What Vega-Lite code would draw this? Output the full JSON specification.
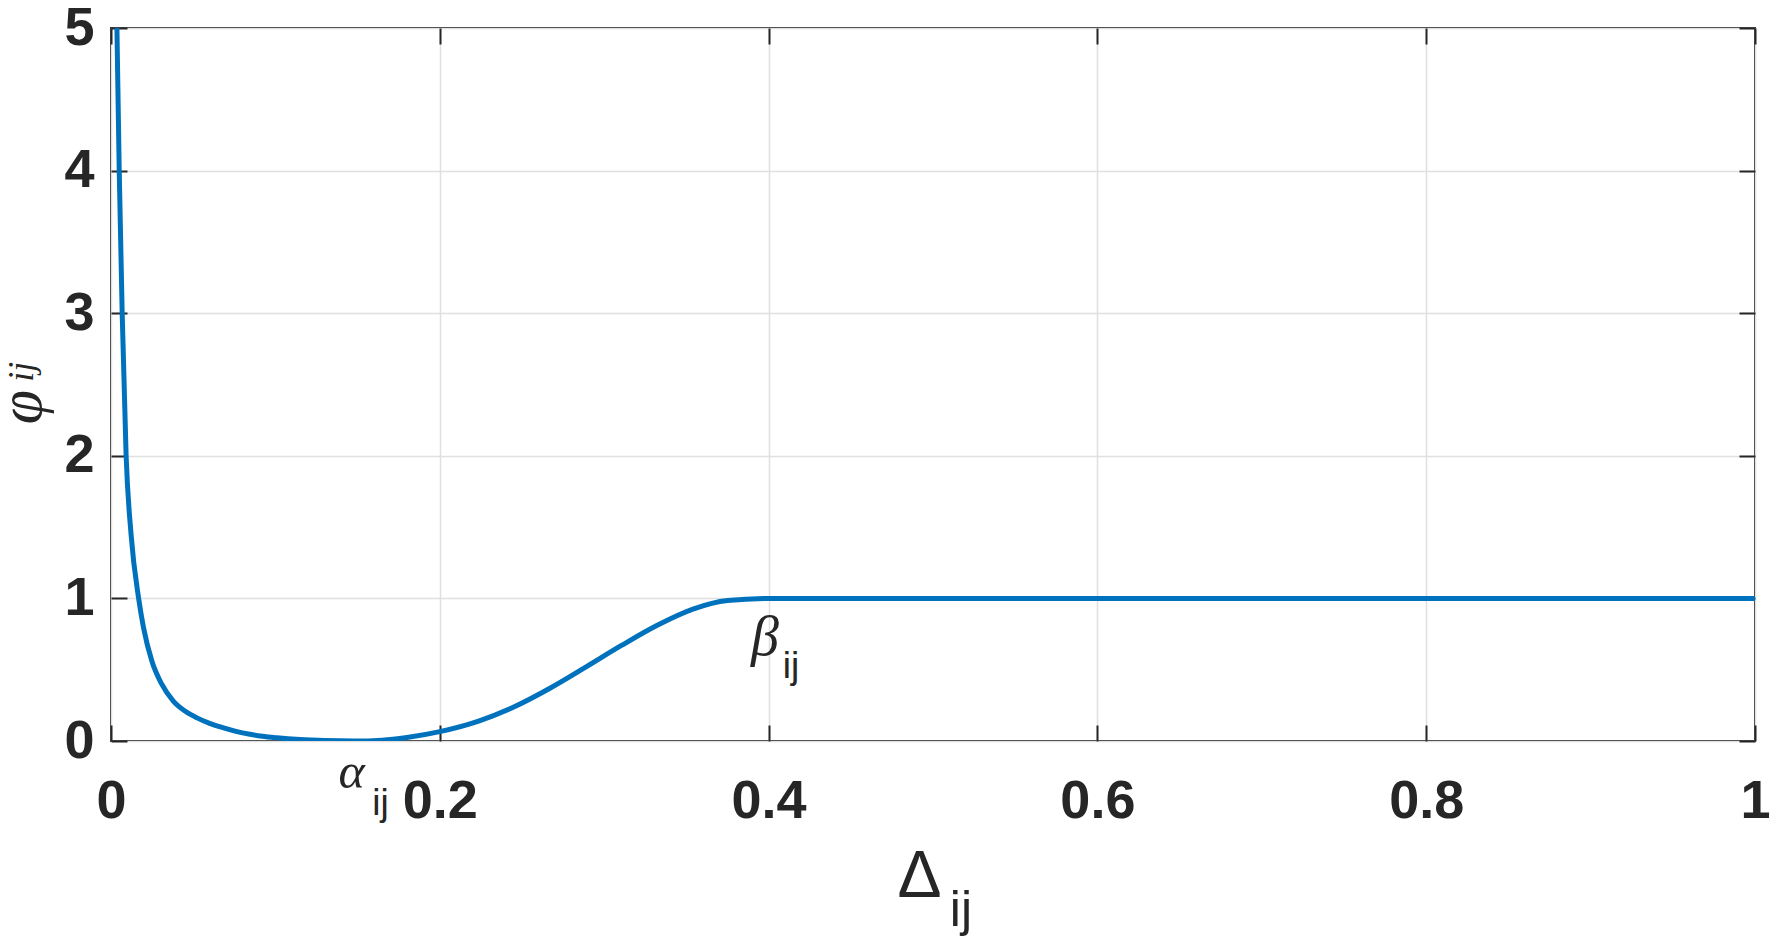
{
  "$schema": "https://vega.github.io/schema/vega-lite/v6.json",
  "width": 1644,
  "height": 713,
  "autosize": {"type": "none"},
  "padding": {"left": 111, "top": 28, "right": 17, "bottom": 208},
  "background": "#ffffff",
  "config": {"view": {"stroke": "#262626", "strokeWidth": 2}},
  "datasets": {
    "curve": [
      {"delta": 0.0036, "phi": 5.0},
      {"delta": 0.005, "phi": 4.0},
      {"delta": 0.0068, "phi": 3.0},
      {"delta": 0.0092, "phi": 2.0},
      {"delta": 0.0122, "phi": 1.45},
      {"delta": 0.0168, "phi": 1.0},
      {"delta": 0.0197, "phi": 0.8},
      {"delta": 0.0248, "phi": 0.563},
      {"delta": 0.0308, "phi": 0.4},
      {"delta": 0.0379, "phi": 0.28},
      {"delta": 0.045, "phi": 0.21},
      {"delta": 0.052, "phi": 0.164},
      {"delta": 0.06, "phi": 0.124},
      {"delta": 0.068, "phi": 0.094},
      {"delta": 0.076, "phi": 0.068},
      {"delta": 0.0845, "phi": 0.047},
      {"delta": 0.092, "phi": 0.033},
      {"delta": 0.101, "phi": 0.022},
      {"delta": 0.115, "phi": 0.01},
      {"delta": 0.13, "phi": 0.003},
      {"delta": 0.148, "phi": 0.0},
      {"delta": 0.165, "phi": 0.006},
      {"delta": 0.18, "phi": 0.025},
      {"delta": 0.2, "phi": 0.066},
      {"delta": 0.2236, "phi": 0.14},
      {"delta": 0.2453, "phi": 0.24},
      {"delta": 0.267, "phi": 0.37},
      {"delta": 0.289, "phi": 0.52},
      {"delta": 0.3105, "phi": 0.67},
      {"delta": 0.332, "phi": 0.81},
      {"delta": 0.354, "phi": 0.925},
      {"delta": 0.375, "phi": 0.985},
      {"delta": 0.4, "phi": 1.0},
      {"delta": 0.45, "phi": 1.0},
      {"delta": 1.0, "phi": 1.0}
    ],
    "alpha": [{"delta": 0.1463, "phi": -0.33, "label": "α"}],
    "beta": [{"delta": 0.3978, "phi": 0.603, "label": "β"}],
    "subSmall": [
      {"delta": 0.1639, "phi": -0.519, "label": "ij"},
      {"delta": 0.4136, "phi": 0.442, "label": "ij"}
    ],
    "xTitle": [{"delta": 0.4918, "phi": -1.094, "label": "Δ"}],
    "xTitleSub": [{"delta": 0.517, "phi": -1.297, "label": "ij"}],
    "yTitle": [{"delta": -0.0426, "phi": 2.342, "label": "φ"}],
    "yTitleSub": [{"delta": -0.0474, "phi": 2.59, "label": "ij"}]
  },
  "layer": [
    {
      "data": {"name": "curve"},
      "mark": {"type": "line", "color": "#0072BD", "strokeWidth": 5, "interpolate": "monotone", "clip": true},
      "encoding": {
        "x": {
          "field": "delta", "type": "quantitative",
          "scale": {"domain": [0, 1], "nice": false, "zero": false},
          "axis": {
            "orient": "bottom", "values": [0, 0.2, 0.4, 0.6, 0.8, 1], "format": "~g", "title": null,
            "grid": true, "gridColor": "#e0e0e0", "gridWidth": 1.5,
            "domain": false, "ticks": true, "tickSize": -16, "tickWidth": 2, "tickColor": "#262626",
            "labelFont": "Liberation Sans", "labelFontWeight": "bold", "labelFontSize": 54,
            "labelColor": "#262626", "labelPadding": 49, "labelFlush": false, "labelOverlap": false
          }
        },
        "y": {
          "field": "phi", "type": "quantitative",
          "scale": {"domain": [0, 5], "nice": false, "zero": false},
          "axis": {
            "orient": "left", "values": [0, 1, 2, 3, 4, 5], "format": "~g", "title": null,
            "grid": true, "gridColor": "#e0e0e0", "gridWidth": 1.5,
            "domain": false, "ticks": true, "tickSize": -16, "tickWidth": 2, "tickColor": "#262626",
            "labelFont": "Liberation Sans", "labelFontWeight": "bold", "labelFontSize": 54,
            "labelColor": "#262626", "labelPadding": 33, "labelFlush": false, "labelOverlap": false
          }
        }
      }
    },
    {
      "data": {"name": "alpha"},
      "mark": {"type": "text", "font": "Liberation Serif", "fontStyle": "italic", "fontSize": 50, "color": "#262626", "align": "center", "baseline": "alphabetic"},
      "encoding": {
        "x": {
          "field": "delta", "type": "quantitative", "scale": {"domain": [0, 1], "nice": false, "zero": false},
          "axis": {"orient": "top", "values": [0, 0.2, 0.4, 0.6, 0.8, 1], "labels": false, "grid": false, "domain": false, "ticks": true, "tickSize": -16, "tickWidth": 2, "tickColor": "#262626", "title": null}
        },
        "y": {
          "field": "phi", "type": "quantitative", "scale": {"domain": [0, 5], "nice": false, "zero": false},
          "axis": {"orient": "right", "values": [0, 1, 2, 3, 4, 5], "labels": false, "grid": false, "domain": false, "ticks": true, "tickSize": -16, "tickWidth": 2, "tickColor": "#262626", "title": null}
        },
        "text": {"field": "label"}
      }
    },
    {
      "data": {"name": "beta"},
      "mark": {"type": "text", "font": "Liberation Serif", "fontStyle": "italic", "fontSize": 56, "color": "#262626", "align": "center", "baseline": "alphabetic"},
      "encoding": {
        "x": {"field": "delta", "type": "quantitative", "scale": {"domain": [0, 1], "nice": false, "zero": false}, "axis": null},
        "y": {"field": "phi", "type": "quantitative", "scale": {"domain": [0, 5], "nice": false, "zero": false}, "axis": null},
        "text": {"field": "label"}
      }
    },
    {
      "data": {"name": "subSmall"},
      "mark": {"type": "text", "font": "Liberation Sans", "fontSize": 37, "color": "#262626", "align": "center", "baseline": "alphabetic"},
      "encoding": {
        "x": {"field": "delta", "type": "quantitative", "scale": {"domain": [0, 1], "nice": false, "zero": false}, "axis": null},
        "y": {"field": "phi", "type": "quantitative", "scale": {"domain": [0, 5], "nice": false, "zero": false}, "axis": null},
        "text": {"field": "label"}
      }
    },
    {
      "data": {"name": "xTitle"},
      "mark": {"type": "text", "font": "Liberation Sans", "fontSize": 66, "color": "#262626", "align": "center", "baseline": "alphabetic"},
      "encoding": {
        "x": {"field": "delta", "type": "quantitative", "scale": {"domain": [0, 1], "nice": false, "zero": false}, "axis": null},
        "y": {"field": "phi", "type": "quantitative", "scale": {"domain": [0, 5], "nice": false, "zero": false}, "axis": null},
        "text": {"field": "label"}
      }
    },
    {
      "data": {"name": "xTitleSub"},
      "mark": {"type": "text", "font": "Liberation Sans", "fontSize": 50, "color": "#262626", "align": "center", "baseline": "alphabetic"},
      "encoding": {
        "x": {"field": "delta", "type": "quantitative", "scale": {"domain": [0, 1], "nice": false, "zero": false}, "axis": null},
        "y": {"field": "phi", "type": "quantitative", "scale": {"domain": [0, 5], "nice": false, "zero": false}, "axis": null},
        "text": {"field": "label"}
      }
    },
    {
      "data": {"name": "yTitle"},
      "mark": {"type": "text", "font": "Liberation Serif", "fontStyle": "italic", "fontSize": 62, "color": "#262626", "align": "center", "baseline": "alphabetic", "angle": 270},
      "encoding": {
        "x": {"field": "delta", "type": "quantitative", "scale": {"domain": [0, 1], "nice": false, "zero": false}, "axis": null},
        "y": {"field": "phi", "type": "quantitative", "scale": {"domain": [0, 5], "nice": false, "zero": false}, "axis": null},
        "text": {"field": "label"}
      }
    },
    {
      "data": {"name": "yTitleSub"},
      "mark": {"type": "text", "font": "Liberation Serif", "fontStyle": "italic", "fontSize": 36, "color": "#262626", "align": "center", "baseline": "alphabetic", "angle": 270},
      "encoding": {
        "x": {"field": "delta", "type": "quantitative", "scale": {"domain": [0, 1], "nice": false, "zero": false}, "axis": null},
        "y": {"field": "phi", "type": "quantitative", "scale": {"domain": [0, 5], "nice": false, "zero": false}, "axis": null},
        "text": {"field": "label"}
      }
    }
  ],
  "resolve": {"axis": {"x": "independent", "y": "independent"}}
}
